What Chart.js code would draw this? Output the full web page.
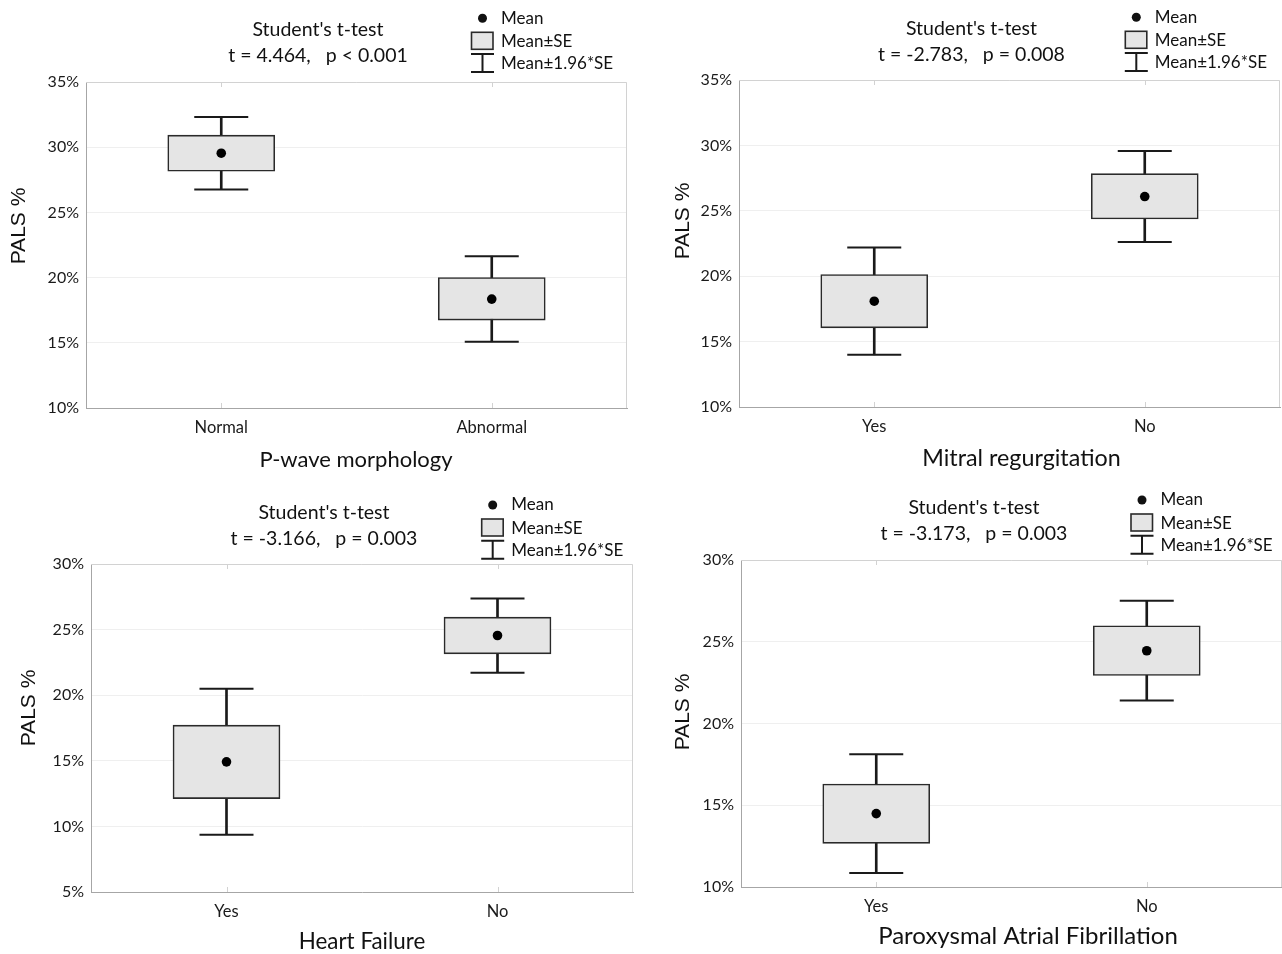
<!DOCTYPE html>
<html lang="en">
<head>
<meta charset="UTF-8">
<title>PALS % by clinical group</title>
<script src="https://cdn.jsdelivr.net/npm/chart.js"></script>
<style>
  body { margin: 0; background: #fff; overflow: hidden; }
  #wrap { position: relative; width: 1282px; height: 954px; }
  canvas { position: absolute; }
</style>
</head>
<body>
<div id="wrap">
  <canvas id="c1" width="640" height="480" style="left:0;top:0"></canvas>
  <canvas id="c2" width="642" height="480" style="left:640px;top:0"></canvas>
  <canvas id="c3" width="640" height="474" style="left:0;top:480px"></canvas>
  <canvas id="c4" width="642" height="474" style="left:640px;top:480px"></canvas>
</div>
<script>
// values (PALS, %): mean, mean±SE, mean±1.96*SE
const pwaveGroups = ['Normal', 'Abnormal'];
const pwaveMean = [29.54, 18.35];
const pwaveSeLow = [28.16, 16.74];
const pwaveSeHigh = [30.92, 20.01];
const pwaveCiLow = [26.75, 15.08];
const pwaveCiHigh = [32.32, 21.64];

const mitralGroups = ['Yes', 'No'];
const mitralMean = [18.09, 26.09];
const mitralSeLow = [16.05, 24.38];
const mitralSeHigh = [20.13, 27.84];
const mitralCiLow = [13.99, 22.62];
const mitralCiHigh = [22.19, 29.58];

const hfGroups = ['Yes', 'No'];
const hfMean = [14.92, 24.55];
const hfSeLow = [12.12, 23.15];
const hfSeHigh = [17.72, 25.95];
const hfCiLow = [9.37, 21.72];
const hfCiHigh = [20.50, 27.37];

const pafGroups = ['Yes', 'No'];
const pafMean = [14.49, 24.45];
const pafSeLow = [12.67, 22.94];
const pafSeHigh = [16.30, 25.98];
const pafCiLow = [10.85, 21.41];
const pafCiHigh = [18.12, 27.51];

const statLines = [
  't = 4.464,   p < 0.001',
  't = -2.783,   p = 0.008',
  't = -3.166,   p = 0.003',
  't = -3.173,   p = 0.003'
];
const xTitles = ['P-wave morphology', 'Mitral regurgitation', 'Heart Failure', 'Paroxysmal Atrial Fibrillation'];
const yRanges = [[10, 35], [10, 35], [5, 30], [10, 30]];

const panels = [
  { id: 'c1', groups: pwaveGroups, mean: pwaveMean, seLow: pwaveSeLow, seHigh: pwaveSeHigh, ciLow: pwaveCiLow, ciHigh: pwaveCiHigh,
    axisW: 86, axisH: 72, top: 82, right: 13,
    head: [318, 30, 55.5], leg: [482.5, 18.3], xTitle: [356, 459.5, 22], yTitle: [19.5, 226] },
  { id: 'c2', groups: mitralGroups, mean: mitralMean, seLow: mitralSeLow, seHigh: mitralSeHigh, ciLow: mitralCiLow, ciHigh: mitralCiHigh,
    axisW: 99, axisH: 73, top: 80, right: 2,
    head: [331.5, 29, 54.5], leg: [496.3, 17.3], xTitle: [381.5, 458.5, 23.3], yTitle: [43, 221] },
  { id: 'c3', groups: hfGroups, mean: hfMean, seLow: hfSeLow, seHigh: hfSeHigh, ciLow: hfCiLow, ciHigh: hfCiHigh,
    axisW: 91, axisH: 62, top: 84, right: 7,
    head: [324, 33, 59], leg: [492.7, 25], xTitle: [362, 462, 22.4], yTitle: [29.4, 228] },
  { id: 'c4', groups: pafGroups, mean: pafMean, seLow: pafSeLow, seHigh: pafSeHigh, ciLow: pafCiLow, ciHigh: pafCiHigh,
    axisW: 101, axisH: 67, top: 80, right: 0,
    head: [334, 28, 54], leg: [502, 20], xTitle: [388, 456.5, 24], yTitle: [43, 232] }
];

const INK = '#1a1a1a';
const BOX_FILL = '#e5e5e5';

// light frame on top/right of the plot area, small inner ticks at the groups
const frame = {
  id: 'frame',
  beforeDatasetsDraw(chart) {
    const { ctx, chartArea: a } = chart;
    const xs = chart.scales.x;
    ctx.save();
    ctx.strokeStyle = '#d2d2d2';
    ctx.lineWidth = 1;
    ctx.beginPath();
    ctx.moveTo(a.left, a.top + 0.5);
    ctx.lineTo(a.right - 0.5, a.top + 0.5);
    ctx.lineTo(a.right - 0.5, a.bottom);
    xs.ticks.forEach((t, k) => {
      const px = Math.round(xs.getPixelForTick(k)) + 0.5;
      ctx.moveTo(px, a.top); ctx.lineTo(px, a.top + 5);
      ctx.moveTo(px, a.bottom); ctx.lineTo(px, a.bottom - 5);
    });
    ctx.stroke();
    ctx.restore();
  }
};

// t-test header, key and axis titles
const panelText = {
  id: 'panelText',
  afterDraw(chart, args, o) {
    const ctx = chart.ctx;
    ctx.save();
    ctx.fillStyle = '#111';
    ctx.textBaseline = 'middle';

    ctx.textAlign = 'center';
    ctx.font = '19.5px Lato';
    ctx.fillText("Student's t-test", o.head[0], o.head[1]);
    ctx.fillText(o.stat, o.head[0], o.head[2]);

    ctx.font = o.xTitle[2] + 'px Lato';
    ctx.fillText(o.xTitleText, o.xTitle[0], o.xTitle[1]);

    ctx.save();
    ctx.translate(o.yTitle[0], o.yTitle[1]);
    ctx.rotate(-Math.PI / 2);
    ctx.font = '21px "Liberation Sans", Arial';
    ctx.fillText('PALS %', 0, 0);
    ctx.restore();

    // key
    const [lx, ly] = o.leg;
    ctx.beginPath();
    ctx.arc(lx, ly, 4.5, 0, Math.PI * 2);
    ctx.fill();
    ctx.fillStyle = BOX_FILL;
    ctx.fillRect(lx - 11, ly + 14, 21.5, 17);
    ctx.strokeStyle = '#2a2a2a';
    ctx.lineWidth = 1.6;
    ctx.strokeRect(lx - 11, ly + 14, 21.5, 17);
    ctx.strokeStyle = INK;
    ctx.lineWidth = 2;
    ctx.beginPath();
    ctx.moveTo(lx - 11.5, ly + 35.7); ctx.lineTo(lx + 11.5, ly + 35.7);
    ctx.moveTo(lx, ly + 35.7); ctx.lineTo(lx, ly + 53.7);
    ctx.moveTo(lx - 11.5, ly + 53.7); ctx.lineTo(lx + 11.5, ly + 53.7);
    ctx.stroke();

    ctx.fillStyle = '#111';
    ctx.textAlign = 'left';
    ctx.font = '17px Lato';
    ctx.fillText('Mean', lx + 18.5, ly);
    ctx.fillText('Mean\u00b1SE', lx + 18.5, ly + 23.4);
    ctx.fillText('Mean\u00b11.96*SE', lx + 18.5, ly + 45.7);
    ctx.restore();
  }
};

function drawPanel(p, i) {
  const pairs = (lo, hi) => lo.map((v, k) => [v, hi[k]]);
  return new Chart(document.getElementById(p.id), {
    type: 'bar',
    data: {
      labels: p.groups,
      datasets: [
        { type: 'line', label: 'Mean', data: p.mean, showLine: false, pointStyle: 'circle',
          pointRadius: 4.8, pointBackgroundColor: '#000', pointBorderWidth: 0, order: 0 },
        { label: 'Mean\u00b1SE', data: pairs(p.seLow, p.seHigh), backgroundColor: BOX_FILL,
          borderColor: '#2a2a2a', borderWidth: 1.6, borderSkipped: false, barThickness: 107,
          grouped: false, order: 1 },
        { type: 'line', label: 'upper', data: p.ciHigh, showLine: false, pointStyle: 'line',
          pointRadius: 27, pointBorderWidth: 2, pointBorderColor: INK, order: 2 },
        { type: 'line', label: 'lower', data: p.ciLow, showLine: false, pointStyle: 'line',
          pointRadius: 27, pointBorderWidth: 2, pointBorderColor: INK, order: 2 },
        { label: 'Mean\u00b11.96*SE', data: pairs(p.ciLow, p.ciHigh), backgroundColor: INK,
          barThickness: 2, grouped: false, order: 3 }
      ]
    },
    options: {
      responsive: false,
      animation: false,
      events: [],
      layout: { autoPadding: false, padding: { top: p.top, right: p.right, left: 0, bottom: 0 } },
      plugins: {
        legend: { display: false },
        tooltip: { enabled: false },
        panelText: { head: p.head, stat: statLines[i], leg: p.leg, xTitle: p.xTitle,
                     xTitleText: xTitles[i], yTitle: p.yTitle }
      },
      scales: {
        x: {
          offset: true,
          grid: { display: false },
          border: { display: true, color: '#a6a6a6', width: 1 },
          ticks: { font: { family: 'Lato', size: 16.5 }, color: '#1a1a1a', padding: 2 },
          afterFit: s => { s.height = p.axisH; }
        },
        y: {
          min: yRanges[i][0],
          max: yRanges[i][1],
          grid: { color: '#efefef', drawTicks: false },
          border: { color: '#a6a6a6' },
          ticks: { stepSize: 5, callback: v => v + '%', font: { family: 'Lato', size: 16 },
                   color: '#1a1a1a', padding: 7 },
          afterFit: s => { s.width = p.axisW; }
        }
      }
    },
    plugins: [frame, panelText]
  });
}

panels.forEach(drawPanel);
</script>
</body>
</html>
